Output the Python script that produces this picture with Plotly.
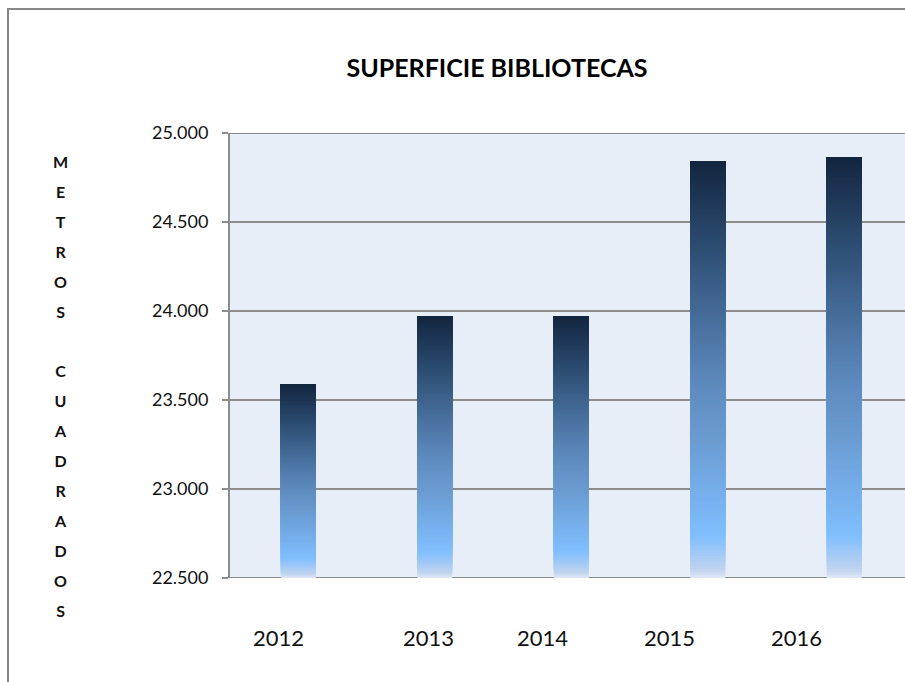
import plotly.graph_objects as go

years = ["2012", "2013", "2014", "2015", "2016"]
superficie = [23590, 23972, 23972, 24843, 24865]
y_ticks = [22500, 23000, 23500, 24000, 24500, 25000]
title_text = "SUPERFICIE BIBLIOTECAS"
axis_title = "METROS CUADRADOS"

base_value = 22500
# gradient stops: (fraction from bar bottom, rgb)
stops = [
    (0.00, (224, 233, 247)),
    (0.02, (192, 211, 238)),
    (0.10, (128, 191, 255)),
    (0.33, (106, 156, 210)),
    (0.45, (95, 140, 192)),
    (0.60, (74, 114, 160)),
    (0.81, (42, 74, 110)),
    (1.00, (19, 37, 63)),
]


def color_at(f):
    for (f0, c0), (f1, c1) in zip(stops[:-1], stops[1:]):
        if f0 <= f <= f1:
            t = (f - f0) / (f1 - f0) if f1 > f0 else 0
            r, g, b = (round(c0[i] + t * (c1[i] - c0[i])) for i in range(3))
            return f"rgb({r},{g},{b})"
    return "rgb(%d,%d,%d)" % stops[-1][1]


N = 150
fig = go.Figure()
for k in range(N):
    f = k / N
    bases = [base_value + f * (v - base_value) for v in superficie]
    heights = [v - b for v, b in zip(superficie, bases)]
    fig.add_trace(go.Bar(
        x=years, y=heights, base=bases,
        marker=dict(color=color_at(f + 0.5 / N), line=dict(width=0)),
        hoverinfo="skip", showlegend=False,
    ))

W, H = 905, 682
ml, mr, mt, mb = 230, 0, 133, 104
pw, ph = W - ml - mr, H - mt - mb

# year labels below the axis (offset like the original)
label_shift = [-20, -6, -29, -38, -48]
annotations = []
for i, (yr, dx) in enumerate(zip(years, label_shift)):
    annotations.append(dict(
        x=i, xref="x", y=(578 - 637) / ph, yref="paper",
        text=yr, showarrow=False, xshift=dx,
        xanchor="center", yanchor="middle",
        font=dict(family="Lato, sans-serif", size=22, color="#111111"),
    ))

# vertical stacked axis title
lines = []
for word_i, word in enumerate(axis_title.split(" ")):
    if word_i > 0:
        lines.append("")
    for ch in word:
        lines.append(f"<b><span style='font-size:16px'>{ch}</span></b>")
annotations.append(dict(
    x=(60 - ml) / pw, xref="paper", y=(578 - 386) / ph, yref="paper",
    text="<br>".join(lines), showarrow=False,
    xanchor="center", yanchor="middle", align="center",
    font=dict(family="Lato, sans-serif", size=23, color="#111111"),
))

grid_col = "#8C8C8C"
fig.update_layout(
    width=W, height=H,
    margin=dict(l=ml, r=mr, t=mt, b=mb),
    paper_bgcolor="white",
    plot_bgcolor="#E8EEF7",
    barmode="overlay",
    bargap=0.744,
    separators=",.",
    title=dict(
        text=f"<b>{title_text}</b>", xref="container", x=497 / W,
        xanchor="center", y=1 - 68 / H, yanchor="middle",
        font=dict(family="Lato, sans-serif", size=25, color="#000000"),
    ),
    xaxis=dict(
        type="category", range=[-0.5, 4.445],
        showticklabels=False, showgrid=False, showline=False, ticks="",
        zeroline=False,
    ),
    yaxis=dict(
        range=[22500, 25000], tickvals=y_ticks, tickformat=",d",
        showgrid=True, gridcolor=grid_col, gridwidth=1.5,
        showline=True, linecolor=grid_col, linewidth=2,
        ticks="outside", ticklen=6, tickcolor=grid_col, tickwidth=1.5,
        ticklabelstandoff=10, zeroline=False,
        tickfont=dict(family="Lato, sans-serif", size=18, color="#111111"),
    ),
    annotations=annotations,
    shapes=[
        dict(
            type="rect", xref="paper", yref="paper",
            x0=(8 - ml) / pw, x1=1.5, y0=-1.0, y1=(578 - 9) / ph,
            line=dict(color="#888888", width=2), fillcolor="rgba(0,0,0,0)",
            layer="below",
        ),
        dict(type="line", xref="paper", yref="y", x0=0, x1=1,
             y0=y_ticks[0], y1=y_ticks[0],
             line=dict(color=grid_col, width=2), layer="below"),
        dict(type="line", xref="paper", yref="y", x0=0, x1=1,
             y0=y_ticks[-1], y1=y_ticks[-1],
             line=dict(color=grid_col, width=2), layer="below"),
    ],
)

fig.write_html(
    "out.html",
    config={"displayModeBar": False},
    post_script="document.body.style.margin='0px';",
)
